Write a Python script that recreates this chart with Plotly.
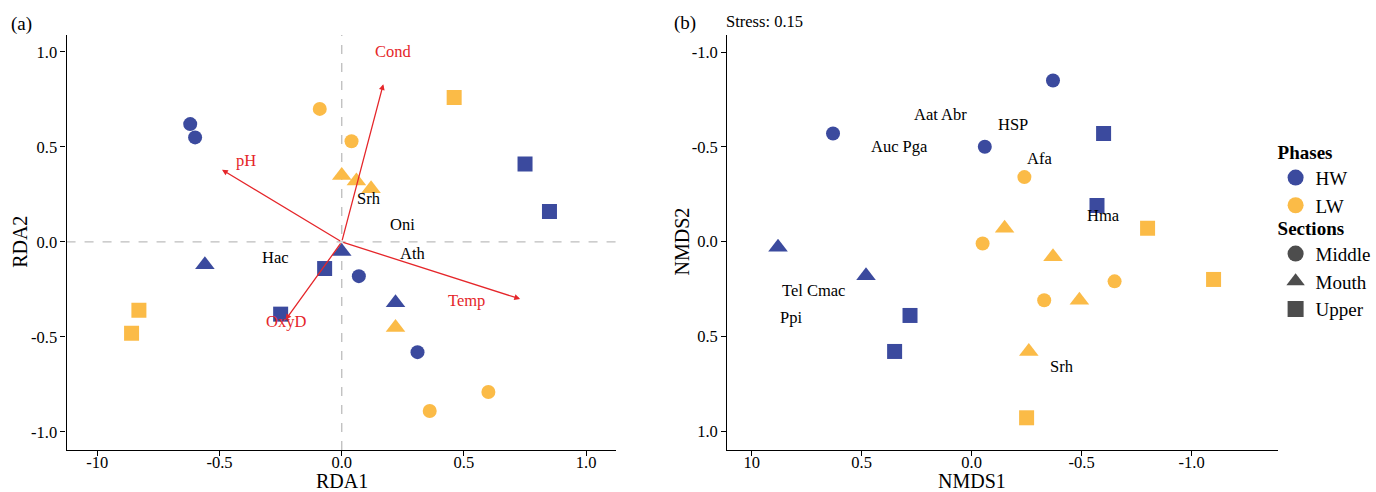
import plotly.graph_objects as go

W, H = 1376, 492
BLUE = "#3B4A9E"
ORANGE = "#FBBB47"
GREY = "#4D4D4D"
RED = "#E5262A"
FONT = "Liberation Serif, Times New Roman, Times, DejaVu Serif, serif"

# ---------- Panel (a): RDA ----------
rda_hw_middle_x = [-0.62, -0.60, 0.07, 0.31]
rda_hw_middle_y = [0.62, 0.55, -0.18, -0.58]
rda_hw_mouth_x = [-0.56, 0.00, 0.22]
rda_hw_mouth_y = [-0.12, -0.05, -0.32]
rda_hw_upper_x = [-0.07, -0.25, 0.75, 0.85]
rda_hw_upper_y = [-0.14, -0.38, 0.41, 0.16]

rda_lw_middle_x = [-0.09, 0.04, 0.36, 0.60]
rda_lw_middle_y = [0.70, 0.53, -0.89, -0.79]
rda_lw_mouth_x = [0.00, 0.06, 0.12, 0.22]
rda_lw_mouth_y = [0.35, 0.32, 0.28, -0.45]
rda_lw_upper_x = [0.46, -0.83, -0.86]
rda_lw_upper_y = [0.76, -0.36, -0.48]

env_names = ["Cond", "pH", "Temp", "OxyD"]
env_x = [0.17, -0.49, 0.73, -0.23]
env_y = [0.83, 0.38, -0.30, -0.41]
env_label_x = [0.21, -0.39, 0.51, -0.23]
env_label_y = [1.00, 0.43, -0.31, -0.42]

rda_species = ["Srh", "Oni", "Ath", "Hac"]
rda_species_x = [0.11, 0.25, 0.29, -0.27]
rda_species_y = [0.23, 0.09, -0.06, -0.08]

# ---------- Panel (b): NMDS ----------
nm_hw_middle_x = [-0.37, 0.63, -0.06]
nm_hw_middle_y = [-0.85, -0.57, -0.50]
nm_hw_mouth_x = [0.88, 0.48]
nm_hw_mouth_y = [0.03, 0.18]
nm_hw_upper_x = [-0.60, -0.57, 0.28, 0.35]
nm_hw_upper_y = [-0.57, -0.19, 0.39, 0.58]

nm_lw_middle_x = [-0.24, -0.05, -0.33, -0.65]
nm_lw_middle_y = [-0.34, 0.01, 0.31, 0.21]
nm_lw_mouth_x = [-0.15, -0.37, -0.49, -0.26]
nm_lw_mouth_y = [-0.07, 0.08, 0.31, 0.58]
nm_lw_upper_x = [-0.80, -1.10, -0.25]
nm_lw_upper_y = [-0.07, 0.20, 0.93]

nm_species = ["Aat Abr", "HSP", "Auc Pga", "Afa", "Hma", "Tel Cmac", "Ppi", "Srh"]
nm_species_x = [0.14, -0.19, 0.33, -0.31, -0.60, 0.72, 0.82, -0.41]
nm_species_y = [-0.67, -0.62, -0.50, -0.44, -0.14, 0.26, 0.40, 0.66]

tick_vals = [-1.0, -0.5, 0.0, 0.5, 1.0]
rda_x_ticktext = ["-10", "-0.5", "0.0", "0.5", "1.0"]
rda_y_ticktext = ["-1.0", "-0.5", "0.0", "0.5", "1.0"]
nm_x_ticktext = ["-1.0", "-0.5", "0.0", "0.5", "10"]
nm_y_ticktext = ["-1.0", "-0.5", "0.0", "0.5", "1.0"]

phase_names = ["HW", "LW"]
section_names = ["Middle", "Mouth", "Upper"]

fig = go.Figure()

SYM = {"circle": 14, "triangle-up": 17, "square": 15}

def add_pts(x, y, color, symbol, xa, ya):
    fig.add_trace(go.Scatter(
        x=x, y=y, mode="markers", xaxis=xa, yaxis=ya, showlegend=False,
        marker=dict(color=color, symbol=symbol, size=SYM[symbol], line=dict(width=0)),
        hoverinfo="skip"))

# left
add_pts(rda_hw_middle_x, rda_hw_middle_y, BLUE, "circle", "x", "y")
add_pts(rda_hw_mouth_x, rda_hw_mouth_y, BLUE, "triangle-up", "x", "y")
add_pts(rda_hw_upper_x, rda_hw_upper_y, BLUE, "square", "x", "y")
add_pts(rda_lw_middle_x, rda_lw_middle_y, ORANGE, "circle", "x", "y")
add_pts(rda_lw_mouth_x, rda_lw_mouth_y, ORANGE, "triangle-up", "x", "y")
add_pts(rda_lw_upper_x, rda_lw_upper_y, ORANGE, "square", "x", "y")
# right
add_pts(nm_hw_middle_x, nm_hw_middle_y, BLUE, "circle", "x2", "y2")
add_pts(nm_hw_mouth_x, nm_hw_mouth_y, BLUE, "triangle-up", "x2", "y2")
add_pts(nm_hw_upper_x, nm_hw_upper_y, BLUE, "square", "x2", "y2")
add_pts(nm_lw_middle_x, nm_lw_middle_y, ORANGE, "circle", "x2", "y2")
add_pts(nm_lw_mouth_x, nm_lw_mouth_y, ORANGE, "triangle-up", "x2", "y2")
add_pts(nm_lw_upper_x, nm_lw_upper_y, ORANGE, "square", "x2", "y2")

# legend entries (two separate legends)
def add_leg(name, color, symbol, legend):
    fig.add_trace(go.Scatter(
        x=[None], y=[None], mode="markers", name=name, xaxis="x2", yaxis="y2",
        legend=legend,
        marker=dict(color=color, symbol=symbol, size=16, line=dict(width=0))))

for n, c in zip(phase_names, [BLUE, ORANGE]):
    add_leg(n, c, "circle", "legend")
for n, s in zip(section_names, ["circle", "triangle-up", "square"]):
    add_leg(n, GREY, s, "legend2")

annotations = []
# arrows
for n, x, y, lx, ly in zip(env_names, env_x, env_y, env_label_x, env_label_y):
    annotations.append(dict(x=x, y=y, ax=0, ay=0, xref="x", yref="y", axref="x", ayref="y",
                            showarrow=True, arrowhead=2, arrowsize=0.9, arrowwidth=1.3,
                            arrowcolor=RED, text=""))
    annotations.append(dict(x=lx, y=ly, xref="x", yref="y", text=n, showarrow=False,
                            font=dict(family=FONT, size=16.5, color=RED)))
for n, x, y in zip(rda_species, rda_species_x, rda_species_y):
    annotations.append(dict(x=x, y=y, xref="x", yref="y", text=n, showarrow=False,
                            font=dict(family=FONT, size=16.5, color="black")))
for n, x, y in zip(nm_species, nm_species_x, nm_species_y):
    annotations.append(dict(x=x, y=y, xref="x2", yref="y2", text=n, showarrow=False,
                            font=dict(family=FONT, size=16.5, color="black")))

def txt(t, px, py, size, angle=0, anchor="center"):
    annotations.append(dict(x=px / W, y=1 - py / H, xref="paper", yref="paper", text=t,
                            showarrow=False, textangle=angle, xanchor=anchor, yanchor="middle",
                            font=dict(family=FONT, size=size, color="black")))

txt("(a)", 9, 24, 19, anchor="left")
txt("(b)", 676, 23, 19, anchor="left")
txt("Stress: 0.15", 729, 22, 16.5, anchor="left")
txt("RDA1", 344, 481, 20)
txt("RDA2", 20, 242, 20, angle=-90)
txt("NMDS1", 978, 481, 20)
txt("NMDS2", 686, 242, 20, angle=-90)

shapes = [
    dict(type="line", xref="x", yref="y domain", x0=0, x1=0, y0=0, y1=1,
         line=dict(color="#BDBDBD", width=1.3, dash="dash"), layer="below"),
    dict(type="line", xref="x domain", yref="y", x0=0, x1=1, y0=0, y1=0,
         line=dict(color="#BDBDBD", width=1.3, dash="dash"), layer="below"),
]

ydom = [1 - 450 / H, 1 - 35 / H]
axis_common = dict(showline=True, linecolor="black", linewidth=1.2, mirror=False,
                   showgrid=False, zeroline=False, ticks="outside", ticklen=5,
                   tickcolor="black", tickfont=dict(family=FONT, size=16.5, color="black"),
                   tickvals=tick_vals)

leg_common = dict(xanchor="left", yanchor="top",
                  font=dict(family=FONT, size=19, color="black"),
                  bgcolor="rgba(0,0,0,0)", itemwidth=30, borderwidth=0)

fig.update_layout(
    width=W, height=H,
    margin=dict(l=0, r=0, t=0, b=0),
    paper_bgcolor="white", plot_bgcolor="white",
    font=dict(family=FONT),
    xaxis=dict(domain=[67 / W, 620 / W], range=[-1.126, 1.122], anchor="y",
               ticktext=rda_x_ticktext, ticklabelstandoff=-8, **axis_common),
    yaxis=dict(domain=ydom, range=[-1.095, 1.089], anchor="x",
               ticktext=rda_y_ticktext, **axis_common),
    xaxis2=dict(domain=[732 / W, 1286 / W], range=[1.111, -1.391], anchor="y2",
                ticktext=nm_x_ticktext, ticklabelstandoff=-8, **axis_common),
    yaxis2=dict(domain=ydom, range=[1.10, -1.09], anchor="x2",
                ticktext=nm_y_ticktext, **axis_common),
    annotations=annotations,
    shapes=shapes,
    showlegend=True,
    legend=dict(x=1284 / W, y=1 - 134 / H,
                title=dict(text="<b>Phases</b>", font=dict(family=FONT, size=19, color="black")),
                **leg_common),
    legend2=dict(x=1284 / W, y=1 - 210 / H,
                 title=dict(text="<b>Sections</b>", font=dict(family=FONT, size=19, color="black")),
                 **leg_common),
)

post = ("document.body.style.margin='0px';document.body.style.padding='0px';"
        "document.body.style.overflow='hidden';"
        "var gd=document.getElementById('{plot_id}');"
        "Plotly.relayout(gd,{width:%d,height:%d});" % (W, H))

fig.write_html("out.html", config={"responsive": False, "displayModeBar": False},
               post_script=post)
